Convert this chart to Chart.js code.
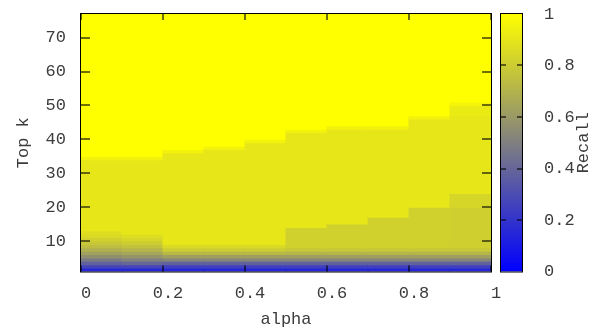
<!DOCTYPE html>
<html>
<head>
<meta charset="utf-8">
<script src="https://cdn.jsdelivr.net/npm/chart.js@4.4.1/dist/chart.umd.min.js"></script>
<style>
  html, body { margin: 0; padding: 0; background: #fff; }
  #wrap { position: relative; width: 602px; height: 336px; overflow: hidden; }
  #heat { position: absolute; left: 0; top: 0; }
  #cbar { position: absolute; left: 490px; top: 0; }
</style>
</head>
<body>
<div id="wrap">
  <canvas id="heat" width="510" height="336"></canvas>
  <canvas id="cbar" width="112" height="336"></canvas>
</div>
<script>
// alpha columns (pm3d cells go from one edge to the next)
const alphaEdges = [0, 0.1, 0.2, 0.3, 0.4, 0.5, 0.6, 0.7, 0.8, 0.9, 1.0];
const kMin = 1;
const kMax = 77;

// recall of the lowest rows (k = 1, 2, ...) in each alpha column
const lowRows = [
  [0.15, 0.27, 0.38, 0.48, 0.56, 0.63, 0.69, 0.74, 0.78, 0.82, 0.85, 0.87], // 0.0-0.1
  [0.15, 0.27, 0.40, 0.50, 0.58, 0.65, 0.71, 0.76, 0.80, 0.84, 0.87],       // 0.1-0.2
  [0.15, 0.25, 0.38, 0.52, 0.62, 0.72, 0.80, 0.85],                         // 0.2-0.3
  [0.15, 0.25, 0.38, 0.52, 0.62, 0.72, 0.80, 0.85],                         // 0.3-0.4
  [0.15, 0.25, 0.38, 0.52, 0.62, 0.72, 0.80, 0.85],                         // 0.4-0.5
  [0.15, 0.25, 0.38, 0.52, 0.62, 0.71, 0.78],                               // 0.5-0.6
  [0.15, 0.25, 0.38, 0.52, 0.62, 0.71, 0.78],                               // 0.6-0.7
  [0.15, 0.25, 0.38, 0.52, 0.62, 0.71, 0.78],                               // 0.7-0.8
  [0.15, 0.25, 0.38, 0.52, 0.62, 0.71, 0.78],                               // 0.8-0.9
  [0.15, 0.25, 0.38, 0.52, 0.62, 0.71, 0.78]                                // 0.9-1.0
];

// bands above those rows: [from k, recall], each one runs up to the next (or kMax)
const bands = [
  [[13, 0.90], [34, 0.95], [35, 1]],
  [[12, 0.90], [34, 0.95], [35, 1]],
  [[9, 0.90], [36, 0.95], [37, 1]],
  [[9, 0.90], [37, 0.95], [38, 1]],
  [[9, 0.90], [39, 0.95], [40, 1]],
  [[8, 0.82], [14, 0.90], [42, 0.95], [43, 1]],
  [[8, 0.82], [15, 0.90], [43, 0.95], [44, 1]],
  [[8, 0.82], [17, 0.90], [43, 0.95], [44, 1]],
  [[8, 0.82], [20, 0.90], [46, 0.95], [47, 1]],
  [[8, 0.81], [20, 0.84], [24, 0.90], [47, 0.92], [50, 0.96], [51, 1]]
];

const xTickValues = [0, 0.2, 0.4, 0.6, 0.8, 1];
const xTickLabels = ['0', '0.2', '0.4', '0.6', '0.8', '1'];
const yTickValues = [10, 20, 30, 40, 50, 60, 70];
const cbTickValues = [0, 0.2, 0.4, 0.6, 0.8, 1];
const cbTickLabels = ['0', '0.2', '0.4', '0.6', '0.8', '1'];

Chart.defaults.font.family = "'Liberation Mono', 'DejaVu Sans Mono', monospace";
Chart.defaults.font.size = 17;
Chart.defaults.color = '#3c3c3c';

// palette: blue (0) -> grey (0.5) -> yellow (1)
function recallColor(v) {
  const r = Math.round(255 * v);
  return `rgb(${r},${r},${255 - r})`;
}

// fixed axis boxes so the plot area lands where gnuplot put it
function fixBox(size) {
  return s => {
    if (s.isHorizontal()) s.height = size; else s.width = size;
    s.paddingTop = 0; s.paddingBottom = 0;
    s.paddingLeft = 0; s.paddingRight = 0;
  };
}

// one floating bar per cell band
const cells = [];
const cellColors = [];
alphaEdges.slice(0, -1).forEach((a0, c) => {
  const xMid = (a0 + alphaEdges[c + 1]) / 2;
  lowRows[c].forEach((v, i) => {
    cells.push({ x: xMid, y: [kMin + i, kMin + i + 1] });
    cellColors.push(recallColor(v));
  });
  const b = bands[c];
  b.forEach(([from, v], j) => {
    const to = j + 1 < b.length ? b[j + 1][0] : kMax;
    cells.push({ x: xMid, y: [from, to] });
    cellColors.push(recallColor(v));
  });
});

// frame + gnuplot-style inner ticks
const frameTicks = {
  id: 'frameTicks',
  afterDraw(chart) {
    const { ctx, chartArea: a, scales: { x, y } } = chart;
    ctx.save();
    ctx.strokeStyle = '#000';
    ctx.lineWidth = 1;
    ctx.strokeRect(a.left - 0.5, a.top - 0.5, a.right - a.left + 1, a.bottom - a.top + 1);
    ctx.strokeStyle = 'rgba(0,0,0,0.75)';
    ctx.lineWidth = 1.5;
    ctx.beginPath();
    xTickValues.forEach(v => {
      const px = Math.round(x.getPixelForValue(v));
      ctx.moveTo(px, a.bottom); ctx.lineTo(px, a.bottom - 6);
      ctx.moveTo(px, a.top); ctx.lineTo(px, a.top + 6);
    });
    yTickValues.forEach(v => {
      const py = Math.round(y.getPixelForValue(v));
      ctx.moveTo(a.left, py); ctx.lineTo(a.left + 9, py);
      ctx.moveTo(a.right, py); ctx.lineTo(a.right - 9, py);
    });
    ctx.stroke();
    ctx.restore();
  }
};

new Chart(document.getElementById('heat'), {
  type: 'bar',
  data: {
    datasets: [{
      data: cells,
      backgroundColor: cellColors,
      borderWidth: 0,
      barPercentage: 1,
      categoryPercentage: 1,
      inflateAmount: 0.5
    }]
  },
  options: {
    responsive: false,
    animation: false,
    devicePixelRatio: 1,
    layout: { padding: { left: 0, top: 14, right: 19, bottom: 0 } },
    plugins: { legend: { display: false }, tooltip: { enabled: false } },
    scales: {
      x: {
        type: 'linear',
        offset: false,
        min: 0,
        max: 1,
        afterBuildTicks: s => { s.ticks = xTickValues.map(v => ({ value: v })); },
        afterFit: fixBox(64.5),
        grid: { display: false, drawTicks: false, offset: false },
        border: { display: false },
        ticks: { padding: 12, labelOffset: 5, autoSkip: false, maxRotation: 0,
                 callback: (v, i) => xTickLabels[i] },
        title: { display: true, text: 'alpha', padding: { top: 0, bottom: 6 } }
      },
      y: {
        type: 'linear',
        min: kMin,
        max: kMax,
        afterBuildTicks: s => { s.ticks = yTickValues.map(v => ({ value: v })); },
        afterFit: fixBox(81),
        grid: { display: false, drawTicks: false },
        border: { display: false },
        ticks: { padding: 15 },
        title: { display: true, text: 'Top k', padding: { top: 13, bottom: 0 } }
      }
    }
  },
  plugins: [frameTicks]
});

// colour box
const cbarFrame = {
  id: 'cbarFrame',
  afterDraw(chart) {
    const { ctx, chartArea: a, scales: { y } } = chart;
    ctx.save();
    ctx.strokeStyle = '#000';
    ctx.lineWidth = 1;
    ctx.strokeRect(a.left - 0.5, a.top - 0.5, a.right - a.left + 1, a.bottom - a.top + 1);
    ctx.strokeStyle = 'rgba(0,0,0,0.75)';
    ctx.lineWidth = 1.5;
    ctx.beginPath();
    cbTickValues.slice(1, -1).forEach(v => {
      const py = Math.round(y.getPixelForValue(v));
      ctx.moveTo(a.left, py); ctx.lineTo(a.left + 5, py);
      ctx.moveTo(a.right, py); ctx.lineTo(a.right - 5, py);
    });
    ctx.stroke();
    ctx.translate(a.right + 61, (a.top + a.bottom) / 2);
    ctx.rotate(-Math.PI / 2);
    ctx.font = "17px 'Liberation Mono', 'DejaVu Sans Mono', monospace";
    ctx.fillStyle = '#3c3c3c';
    ctx.textAlign = 'center';
    ctx.textBaseline = 'middle';
    ctx.fillText('Recall', 0, 0);
    ctx.restore();
  }
};

new Chart(document.getElementById('cbar'), {
  type: 'bar',
  data: {
    labels: [''],
    datasets: [{
      data: [[cbTickValues[0], cbTickValues[cbTickValues.length - 1]]],
      backgroundColor: c => {
        const { ctx, chartArea } = c.chart;
        if (!chartArea) return recallColor(0.5);
        const g = ctx.createLinearGradient(0, chartArea.bottom, 0, chartArea.top);
        g.addColorStop(0, recallColor(0));
        g.addColorStop(1, recallColor(1));
        return g;
      },
      borderWidth: 0,
      barPercentage: 1,
      categoryPercentage: 1
    }]
  },
  options: {
    responsive: false,
    animation: false,
    devicePixelRatio: 1,
    layout: { padding: { left: 11, top: 14, right: 0, bottom: 64.5 } },
    plugins: { legend: { display: false }, tooltip: { enabled: false } },
    scales: {
      x: { display: false },
      y: {
        position: 'right',
        min: 0,
        max: 1,
        afterBuildTicks: s => { s.ticks = cbTickValues.map(v => ({ value: v })); },
        afterFit: fixBox(80),
        grid: { display: false, drawTicks: false },
        border: { display: false },
        ticks: { padding: 22, callback: (v, i) => cbTickLabels[i] }
      }
    }
  },
  plugins: [cbarFrame]
});
</script>
</body>
</html>
